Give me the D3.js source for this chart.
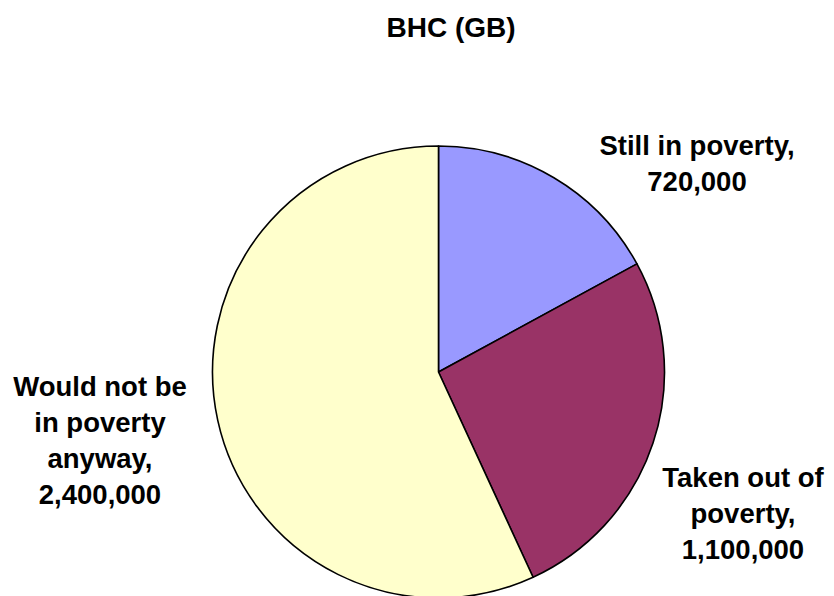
<!DOCTYPE html>
<html>
<head>
<meta charset="utf-8">
<script src="https://cdn.jsdelivr.net/npm/d3@7"></script>
<style>
  html, body { margin: 0; padding: 0; background: #ffffff; }
  svg { display: block; }
  text { font-family: "Liberation Sans", Arial, sans-serif; font-weight: bold; fill: #000; }
</style>
</head>
<body>
<svg id="chart" width="834" height="596"></svg>
<script>
const title = "BHC (GB)";
const categories = ["Still in poverty", "Taken out of poverty", "Would not be in poverty anyway"];
const values = [720000, 1100000, 2400000];
const colors = ["#9999FF", "#993366", "#FFFFCC"];
const labelLines = [
  ["Still in poverty,", "720,000"],
  ["Taken out of", "poverty,", "1,100,000"],
  ["Would not be", "in poverty", "anyway,", "2,400,000"]
];
const labelAnchors = [[697, 155], [743, 487], [100, 396]];

const W = 834, H = 596;
const cx = 438.5, cy = 372, R = 226;
const titleSize = 28, fontSize = 27.5, lineH = 36;

const svg = d3.select("#chart");

svg.append("text")
  .attr("x", 451).attr("y", 37)
  .attr("text-anchor", "middle")
  .style("font-size", titleSize + "px")
  .text(title);

const data = categories.map((c, i) => ({ cat: c, value: values[i], color: colors[i], lines: labelLines[i], anchor: labelAnchors[i] }));

const pie = d3.pie().sort(null).value(d => d.value);
const arc = d3.arc().innerRadius(0).outerRadius(R);

const g = svg.append("g").attr("transform", `translate(${cx},${cy})`);
g.selectAll("path")
  .data(pie(data))
  .join("path")
  .attr("d", arc)
  .attr("fill", d => d.data.color)
  .attr("stroke", "#000")
  .attr("stroke-width", 1.6)
  .attr("stroke-linejoin", "round");

const labels = svg.selectAll("g.label")
  .data(data)
  .join("g")
  .attr("class", "label");

labels.each(function(d) {
  const t = d3.select(this).append("text")
    .attr("text-anchor", "middle")
    .style("font-size", fontSize + "px");
  d.lines.forEach((ln, i) => {
    t.append("tspan")
      .attr("x", d.anchor[0])
      .attr("y", d.anchor[1] + i * lineH)
      .text(ln);
  });
});
</script>
</body>
</html>
